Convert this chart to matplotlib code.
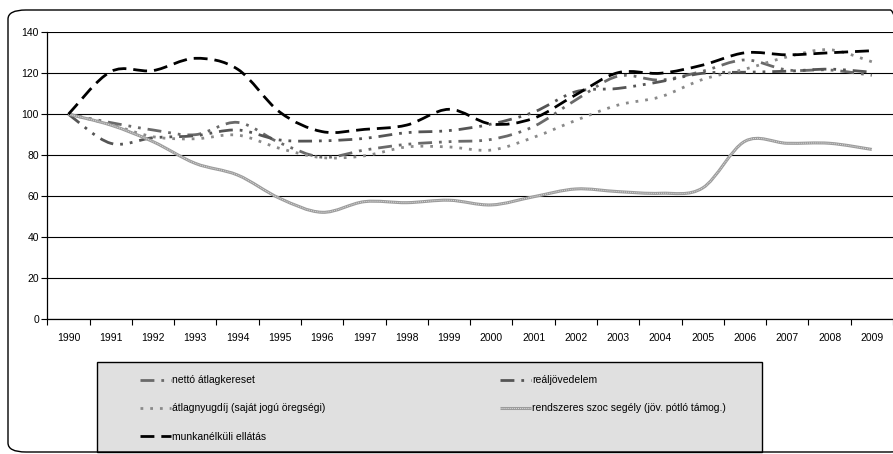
import numpy as np
import matplotlib.pyplot as plt
from matplotlib.path import Path
from matplotlib.patches import PathPatch, FancyBboxPatch, Rectangle
from matplotlib.lines import Line2D

plt.rcParams['font.family'] = ['Liberation Sans Narrow', 'Liberation Sans', 'DejaVu Sans']

# === Adatok (1990 = 100) ===
years = [str(y) for y in range(1990, 2010)]
netto = [100, 95.9, 92.3, 90, 96, 86, 79, 82.5, 85.3, 86.6, 87.7, 94, 107,
         118.6, 116.7, 121, 126.5, 121.6, 121.6, 119]
realjov = [100, 85.8, 88.5, 89.5, 92.3, 87.4, 87, 88.2, 91, 92, 95.2, 101, 111,
           112.6, 115.9, 120, 120.5, 121, 122, 120.5]
nyugdij = [100, 95, 89, 88, 89.8, 83.3, 78.8, 79.7, 84, 84, 82.5, 88.7, 97,
           104.5, 108.5, 117, 122, 128, 131.5, 125.6]
szoc = [100, 94.7, 86.6, 76, 70.3, 58.9, 52.1, 57.3, 56.8, 58, 55.7, 59.7,
        63.5, 62.2, 61.4, 64, 86.8, 85.8, 85.8, 82.8]
munkan = [100, 120.8, 121.3, 127.3, 122, 101, 91.5, 92.6, 94.7, 102.4, 95.2,
          98, 109.5, 120.3, 120, 124, 130, 129, 130, 131]

labels = ['nettó átlagkereset', 'reáljövedelem',
          'átlagnyugdíj (saját jogú öregségi)',
          'rendszeres szoc segély (jöv. pótló támog.)',
          'munkanélküli ellátás']


def smooth_path(y):
    # Excel-szerű simított vonal: Bezier-szakaszok a pontok között
    x = np.arange(len(y), dtype=float)
    y = np.asarray(y, dtype=float)
    pts = np.column_stack([x, y])
    verts = [pts[0]]
    codes = [Path.MOVETO]
    n = len(pts)
    for i in range(n - 1):
        p0 = pts[i - 1] if i > 0 else pts[i]
        p1 = pts[i]
        p2 = pts[i + 1]
        p3 = pts[i + 2] if i + 2 < n else pts[i + 1]
        c1 = p1 + (p2 - p0) / 6.0
        c2 = p2 - (p3 - p1) / 6.0
        verts += [c1, c2, p2]
        codes += [Path.CURVE4] * 3
    return Path(verts, codes)


fig = plt.figure(figsize=(8.93, 4.54), dpi=100)

# keret (jobb oldala kilóg a képből)
fig.patches.append(FancyBboxPatch((8 / 893, 2 / 454), 900 / 893, 442 / 454,
                                  boxstyle='round,pad=0,rounding_size=0.02',
                                  transform=fig.transFigure, fill=False,
                                  edgecolor='black', linewidth=1.0))

ax = fig.add_axes([47.3 / 893, 1 - 319 / 454, (893 - 47.3) / 893, (319 - 32.3) / 454])

dd = (0, (5, 2.5, 1, 2.5, 1, 2.5))
styles = [
    (netto, '#6a6a6a', 2.0, dd),
    (realjov, '#555555', 2.0, dd),
    (nyugdij, '#8a8a8a', 2.0, (0, (1, 2.5))),
    (szoc, '#9c9c9c', 2.2, '-'),
    (munkan, 'black', 2.0, (0, (5, 2.5))),
]

handles = []
for (data, col, lw, ls), lab in zip(styles, labels):
    ax.add_patch(PathPatch(smooth_path(data), fill=False, edgecolor=col,
                           linewidth=lw, linestyle=ls, capstyle='butt'))
    h = Line2D([], [], color=col, linewidth=lw, linestyle=ls,
               solid_capstyle='butt', dash_capstyle='butt')
    if data is szoc:
        # mintázott szürke vonal
        ax.add_patch(PathPatch(smooth_path(data), fill=False, edgecolor='#dcdcdc',
                               linewidth=0.7, linestyle=(0, (1, 1))))
        h = (h, Line2D([], [], color='#dcdcdc', linewidth=0.7, linestyle=(0, (1, 1))))
    handles.append(h)

ax.set_xlim(-0.5, 19.45)
ax.set_ylim(0, 140)
ax.set_yticks(range(0, 141, 20))
ax.yaxis.grid(True, color='black', linewidth=0.8)
ax.set_axisbelow(True)
ax.set_xticks(np.arange(-0.5, 19.6, 1.0))
ax.set_xticklabels([])
ax.set_xticks(np.arange(len(years)), minor=True)
ax.set_xticklabels(years, minor=True)
ax.tick_params(axis='x', which='major', length=4, width=0.8, direction='out')
ax.tick_params(axis='x', which='minor', length=0, pad=10, labelsize=7.5)
ax.tick_params(axis='y', length=4, width=0.8, labelsize=7.5, pad=2)
for s in ['top', 'right']:
    ax.spines[s].set_visible(False)
for s in ['left', 'bottom']:
    ax.spines[s].set_linewidth(0.9)

# jelmagyarázat doboza
fig.patches.append(Rectangle((97 / 893, 2 / 454), (762 - 97) / 893, (452 - 362) / 454,
                             transform=fig.transFigure, facecolor='#e0e0e0',
                             edgecolor='black', linewidth=1.0, zorder=0))

kw = dict(frameon=False, fontsize=7.5, handlelength=3.0, handletextpad=0.1,
          labelspacing=1.75, borderpad=0, loc='upper left')
leg1 = fig.legend([handles[0], handles[2], handles[4]],
                  [labels[0], labels[2], labels[4]],
                  bbox_to_anchor=(135 / 893, 1 - 370 / 454), **kw)
leg2 = fig.legend([handles[1], handles[3]], [labels[1], labels[3]],
                  bbox_to_anchor=(495 / 893, 1 - 370 / 454), **kw)

fig.savefig('out.png', dpi=100)
